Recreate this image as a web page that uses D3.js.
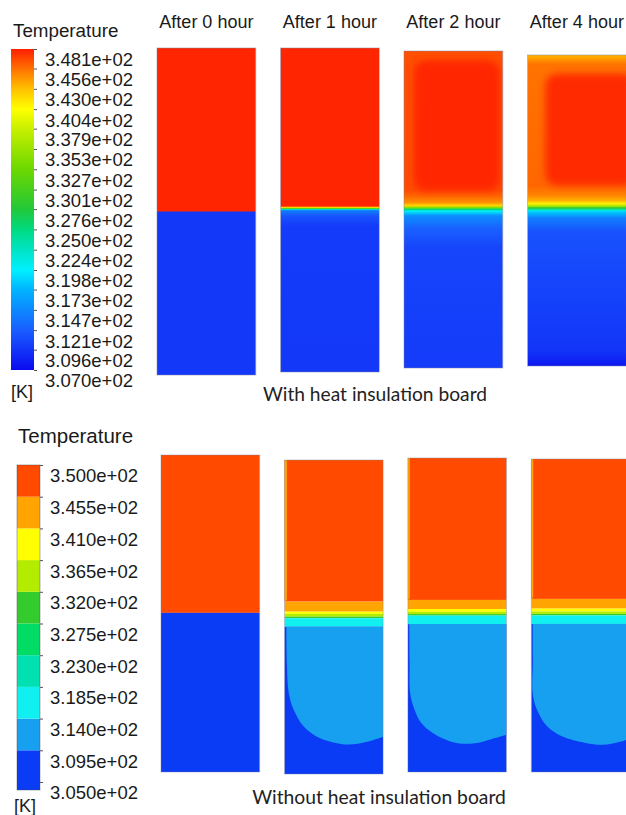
<!DOCTYPE html>
<html>
<head>
<meta charset="utf-8">
<script src="https://cdn.jsdelivr.net/npm/d3@7"></script>
<style>
  body { margin: 0; background: #fff; }
  svg { display: block; font-family: "Liberation Sans", Arial, sans-serif; }
</style>
</head>
<body>
<svg id="chart" width="626" height="815"></svg>
<script>
// snapshots
const times = ["After 0 hour", "After 1 hour", "After 2 hour", "After 4 hour"];

// ---- upper row: with heat insulation board (continuous legend, K)
const topTicks = [307.0, 309.6, 312.1, 314.7, 317.3, 319.8, 322.4, 325.0, 327.6,
                  330.1, 332.7, 335.3, 337.9, 340.4, 343.0, 345.6, 348.1];
const topColorStops = [307, 312, 317.3, 319.8, 322.4, 325, 327.6, 332.7, 337.9, 340.4, 343, 345.6, 348.1];
const topColors = ["#0a0af0", "#1a5cff", "#00b4ff", "#00f0ff", "#00e4c4", "#00da80", "#22c838", "#6cd800", "#c8f000", "#ffff00", "#ffc000", "#ff7000", "#ff1e00"];

// centre-line temperature profile: [depth as fraction of tank height, T]
const topProfiles = [
  [[0, 347.9], [0.499, 347.9], [0.501, 309.8], [1, 309.8]],
  [[0, 347.9], [0.488, 347.9], [0.492, 342], [0.495, 332], [0.498, 322], [0.502, 314], [0.52, 311.3], [0.55, 310], [1, 309.8]],
  [[0, 346.6], [0.44, 346.7], [0.46, 345.8], [0.478, 344.5], [0.488, 342], [0.494, 334], [0.5, 325], [0.505, 320], [0.52, 315], [0.56, 312.3], [0.62, 310.6], [1, 310]],
  [[0, 343.3], [0.03, 345.5], [0.42, 345.9], [0.45, 345], [0.468, 343.5], [0.478, 341], [0.486, 336], [0.492, 328], [0.5, 321], [0.506, 318], [0.525, 314], [0.57, 311.3], [0.95, 309.6], [1, 307.8]]
];
// hot core of the upper layer: [x0, x1, depth0, depth1, T]
const topCores = [null, null,
  [0.1, 0.97, 0.03, 0.44, 347.9],
  [0.18, 1.1, 0.06, 0.42, 347.7]];

// ---- lower row: without heat insulation board (banded legend, K)
const bottomTicks = [305, 309.5, 314, 318.5, 323, 327.5, 332, 336.5, 341, 345.5, 350];
const bottomColors = ["#0a3cf5", "#18a0f0", "#10f0f0", "#00e0b0", "#00dc64", "#34cc2c", "#b4ec00", "#ffff00", "#ffa400", "#ff4a00"];

// temperature layers along the depth: [depth where layer starts, T]
const bottomBands = [
  [[0, 347.5], [0.498, 307]],
  [[0, 347.5], [0.451, 343], [0.483, 338.5], [0.49, 334], [0.499, 329.5], [0.504, 316], [0.531, 307]],
  [[0, 347.5], [0.452, 343], [0.481, 338.5], [0.49, 334], [0.497, 329.5], [0.502, 316], [0.529, 307]],
  [[0, 347.5], [0.447, 343], [0.478, 338.5], [0.487, 334], [0.495, 329.5], [0.5, 316], [0.527, 307]]
];
// cooler film on the left wall of the hot layer: [width fraction, T]
const bottomWallFilm = [null, [0.025, 343], [0.02, 343], [0.02, 343]];
// 309.5 K isotherm bounding the warmer plume: [x fraction, depth]
const plumeT = 312;
const bottomPlumes = [
  null,
  [[0.02, 0.531], [0.025, 0.65], [0.044, 0.743], [0.095, 0.796], [0.196, 0.849], [0.33, 0.881], [0.534, 0.902], [0.65, 0.906], [0.84, 0.897], [1, 0.881]],
  [[0.015, 0.529], [0.018, 0.65], [0.024, 0.749], [0.068, 0.802], [0.136, 0.844], [0.254, 0.876], [0.424, 0.902], [0.56, 0.91], [0.73, 0.906], [0.88, 0.892], [1, 0.881]],
  [[0.015, 0.527], [0.016, 0.65], [0.014, 0.748], [0.058, 0.801], [0.16, 0.854], [0.31, 0.886], [0.55, 0.907], [0.72, 0.913], [0.9, 0.903], [1, 0.893]]
];

const svg = d3.select("#chart");
const defs = svg.append("defs");

defs.append("filter").attr("id", "soft")
  .attr("x", "-30%").attr("y", "-30%").attr("width", "160%").attr("height", "160%")
  .append("feGaussianBlur").attr("stdDeviation", 3.5);

const topColor = d3.scaleLinear().domain(topColorStops).range(topColors).clamp(true);
const bottomColor = d3.scaleThreshold().domain(bottomTicks.slice(1, -1)).range(bottomColors);

const fmt = v => { const s = String(Math.round(v * 10)); return s[0] + "." + s.slice(1) + "e+02"; };

// panel placement
const topX = d3.scaleBand().domain(times).range([157, 626.3]).paddingInner(0.2).paddingOuter(0);
const botX = d3.scaleBand().domain(times).range([161, 630]).paddingInner(0.2).paddingOuter(0);
const topY = [[48, 375], [48, 372], [51, 368], [55, 366]];
const botY = [[455, 772], [460, 774], [458, 772], [459, 772]];

// ---------- upper row
times.forEach((t, i) => {
  const w = topX.bandwidth(), h = topY[i][1] - topY[i][0];
  const px = d3.scaleLinear().domain([0, 1]).range([0, w]);
  const py = d3.scaleLinear().domain([0, 1]).range([0, h]);
  const g = svg.append("g").attr("transform", `translate(${topX(t)},${topY[i][0]})`);

  defs.append("clipPath").attr("id", "clipT" + i)
    .append("rect").attr("width", w).attr("height", h);

  const grad = defs.append("linearGradient").attr("id", "gradT" + i)
    .attr("x1", 0).attr("y1", 0).attr("x2", 0).attr("y2", 1);
  grad.selectAll("stop").data(topProfiles[i]).enter().append("stop")
    .attr("offset", d => d[0])
    .attr("stop-color", d => topColor(d[1]));

  const body = g.append("g").attr("clip-path", `url(#clipT${i})`);
  body.append("rect").attr("width", w).attr("height", h).attr("fill", `url(#gradT${i})`);

  const c = topCores[i];
  if (c) {
    body.append("rect")
      .attr("x", px(c[0])).attr("y", py(c[2]))
      .attr("width", px(c[1]) - px(c[0])).attr("height", py(c[3]) - py(c[2]))
      .attr("rx", 12)
      .attr("fill", topColor(c[4]))
      .attr("filter", "url(#soft)");
  }

  g.append("rect").attr("width", w).attr("height", h)
    .attr("fill", "none").attr("stroke", "#7d82a0").attr("stroke-opacity", 0.6).attr("stroke-width", 0.8);

  svg.append("text")
    .attr("x", topX(t) + w / 2).attr("y", 28)
    .attr("text-anchor", "middle")
    .attr("font-size", 18).attr("fill", "#1a1a1a")
    .text(t);
});

// ---------- lower row
times.forEach((t, i) => {
  const w = botX.bandwidth(), h = botY[i][1] - botY[i][0];
  const px = d3.scaleLinear().domain([0, 1]).range([0, w]);
  const py = d3.scaleLinear().domain([0, 1]).range([0, h]);
  const g = svg.append("g").attr("transform", `translate(${botX(t)},${botY[i][0]})`);

  defs.append("clipPath").attr("id", "clipB" + i)
    .append("rect").attr("width", w).attr("height", h);
  const body = g.append("g").attr("clip-path", `url(#clipB${i})`);

  const bands = bottomBands[i];
  body.selectAll("rect.band").data(bands).enter().append("rect")
    .attr("class", "band")
    .attr("x", 0)
    .attr("y", d => py(d[0]))
    .attr("width", w)
    .attr("height", (d, j) => py(j + 1 < bands.length ? bands[j + 1][0] : 1) - py(d[0]))
    .attr("fill", d => bottomColor(d[1]));

  const film = bottomWallFilm[i];
  if (film) {
    body.append("rect")
      .attr("x", -4).attr("y", -4)
      .attr("width", px(film[0]) + 4).attr("height", py(bands[1][0]) + 4)
      .attr("rx", 3)
      .attr("fill", bottomColor(film[1]));
  }

  const plume = bottomPlumes[i];
  if (plume) {
    const line = d3.line().x(d => px(d[0])).y(d => py(d[1])).curve(d3.curveCatmullRom);
    const top = plume[0][1];
    body.append("path")
      .attr("d", line(plume) + `L${px(1)},${py(top)}L${px(plume[0][0])},${py(top)}Z`)
      .attr("fill", bottomColor(plumeT));
  }

  g.append("rect").attr("width", w).attr("height", h)
    .attr("fill", "none").attr("stroke", "#7d82a0").attr("stroke-opacity", 0.5).attr("stroke-width", 0.8);
});

// ---------- legends
const labelStyle = sel => sel.attr("font-family", "Liberation Sans, Arial, sans-serif")
  .attr("font-size", 18.5).attr("fill", "#1a1a1a");

// upper legend (continuous)
const yTop = d3.scaleLinear().domain([307, 348.1]).range([370, 49]);
const lgGrad = defs.append("linearGradient").attr("id", "lgTop")
  .attr("x1", 0).attr("y1", 1).attr("x2", 0).attr("y2", 0);
lgGrad.selectAll("stop").data(topColorStops).enter().append("stop")
  .attr("offset", d => (d - 307) / (348.1 - 307))
  .attr("stop-color", d => topColor(d));
svg.append("rect").attr("x", 11).attr("y", yTop(348.1))
  .attr("width", 23).attr("height", yTop(307) - yTop(348.1))
  .attr("fill", "url(#lgTop)");

const axTop = svg.append("g").attr("transform", "translate(34,0)")
  .call(d3.axisRight(yTop).tickValues(topTicks).tickSize(3).tickPadding(8).tickFormat(fmt));
axTop.select(".domain").remove();
axTop.selectAll(".tick line").attr("stroke", "#555");
axTop.selectAll(".tick text").attr("y", 11).call(labelStyle);
axTop.attr("font-size", null).attr("font-family", null);

svg.append("text").attr("x", 13).attr("y", 37).attr("font-size", 18.8).attr("fill", "#1a1a1a").text("Temperature");
svg.append("text").attr("x", 11).attr("y", 398).attr("font-size", 18).attr("fill", "#1a1a1a").text("[K]");

// lower legend (banded)
const yBot = d3.scaleLinear().domain([305, 350]).range([782, 465]);
const legendBands = d3.range(bottomColors.length);
svg.selectAll("rect.lgband").data(legendBands).enter().append("rect")
  .attr("class", "lgband")
  .attr("x", 17)
  .attr("y", j => yBot(bottomTicks[j + 1]))
  .attr("width", 23)
  .attr("height", j => (j === 0 ? 790 : yBot(bottomTicks[j])) - yBot(bottomTicks[j + 1]))
  .attr("fill", j => bottomColors[j]);
svg.append("rect").attr("x", 17).attr("y", 465).attr("width", 23).attr("height", 325)
  .attr("fill", "none").attr("stroke", "#444").attr("stroke-opacity", 0.5).attr("stroke-width", 0.8);

const axBot = svg.append("g").attr("transform", "translate(40,0)")
  .call(d3.axisRight(yBot).tickValues(bottomTicks).tickSize(3).tickPadding(7).tickFormat(fmt));
axBot.select(".domain").remove();
axBot.selectAll(".tick line").attr("stroke", "#555");
axBot.selectAll(".tick text").attr("y", 11).call(labelStyle);
axBot.attr("font-size", null).attr("font-family", null);

svg.append("text").attr("x", 18).attr("y", 443).attr("font-size", 20.5).attr("fill", "#1a1a1a").text("Temperature");
svg.append("text").attr("x", 14).attr("y", 812).attr("font-size", 18).attr("fill", "#1a1a1a").text("[K]");

// captions
svg.append("text").attr("x", 375).attr("y", 401).attr("text-anchor", "middle")
  .attr("font-family", "Lato, 'Open Sans', sans-serif").attr("font-size", 19.2).attr("fill", "#222")
  .text("With heat insulation board");
svg.append("text").attr("x", 379).attr("y", 804).attr("text-anchor", "middle")
  .attr("font-family", "Lato, 'Open Sans', sans-serif").attr("font-size", 19.3).attr("fill", "#222")
  .text("Without heat insulation board");
</script>
</body>
</html>
